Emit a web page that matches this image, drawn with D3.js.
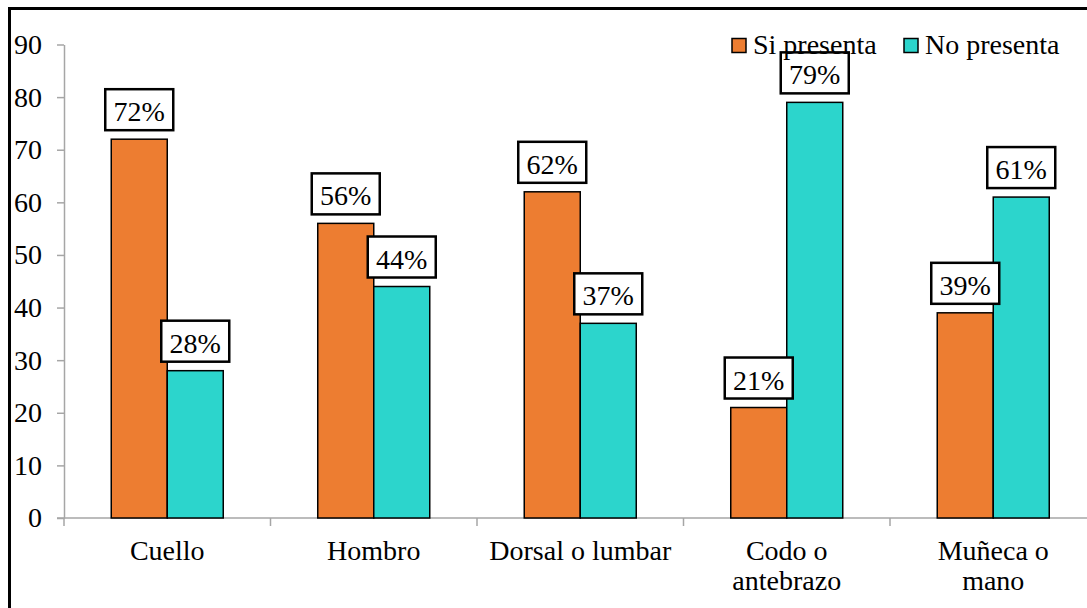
<!DOCTYPE html>
<html>
<head>
<meta charset="utf-8">
<script src="https://cdn.jsdelivr.net/npm/d3@7/dist/d3.min.js"></script>
<style>
  html, body { margin: 0; padding: 0; background: #fff; }
  svg { display: block; }
  text { font-family: "Liberation Serif", "Times New Roman", serif; fill: #000; }
</style>
</head>
<body>
<svg id="chart" width="1087" height="608"></svg>
<script>
// Body regions surveyed
const categories = ["Cuello", "Hombro", "Dorsal o lumbar", "Codo o antebrazo", "Muñeca o mano"];
const categoryLines = [["Cuello"], ["Hombro"], ["Dorsal o lumbar"], ["Codo o", "antebrazo"], ["Muñeca o", "mano"]];
const seriesNames = ["Si presenta", "No presenta"];
const siPresenta = [72, 56, 62, 21, 39];
const noPresenta = [28, 44, 37, 79, 61];
const yTicks = [0, 10, 20, 30, 40, 50, 60, 70, 80, 90];
const colors = ["#ED7D31", "#2CD5CC"];

const svg = d3.select("#chart");
const FONT = 28;

// Outer frame
svg.append("rect")
  .attr("x", 9.5).attr("y", 8.5)
  .attr("width", 1200).attr("height", 700)
  .attr("fill", "none").attr("stroke", "#000").attr("stroke-width", 3);

const plotLeft = 64, plotRight = 1096.5, plotTop = 44.5, plotBottom = 518;

const y = d3.scaleLinear().domain([0, 90]).range([plotBottom, plotTop]);
const x = d3.scaleBand().domain(categories).range([plotLeft, plotRight]).padding(0);
const bw = x.bandwidth();
const inner = d3.scaleBand().domain(seriesNames)
  .range([bw * 0.2288, bw * 0.7712]).padding(0);

// Y axis
const yAxis = svg.append("g")
  .attr("transform", `translate(${plotLeft},0)`)
  .call(d3.axisLeft(y).tickValues(yTicks).tickSize(7).tickSizeOuter(0).tickPadding(15));
yAxis.select(".domain").attr("stroke", "#a6a6a6").attr("stroke-width", 1.5);
yAxis.selectAll(".tick line").attr("stroke", "#a6a6a6").attr("stroke-width", 1.5);
yAxis.selectAll(".tick text")
  .attr("font-size", FONT)
  .attr("font-family", "Liberation Serif, Times New Roman, serif")
  .attr("fill", "#000");

// X axis: baseline plus ticks at the category boundaries
const boundaries = categories.map(c => x(c)).concat([plotRight]);
const xAxis = svg.append("g");
xAxis.append("line")
  .attr("x1", plotLeft - 7).attr("x2", 1100)
  .attr("y1", y(0)).attr("y2", y(0))
  .attr("stroke", "#a6a6a6").attr("stroke-width", 1.5);
xAxis.selectAll("line.tk").data(boundaries).join("line")
  .attr("class", "tk")
  .attr("x1", d => d).attr("x2", d => d)
  .attr("y1", y(0)).attr("y2", y(0) + 8)
  .attr("stroke", "#a6a6a6").attr("stroke-width", 1.5);

// Category labels
categories.forEach((c, i) => {
  const t = svg.append("text")
    .attr("x", x(c) + bw / 2)
    .attr("y", y(0) + 42)
    .attr("text-anchor", "middle")
    .attr("font-size", FONT);
  categoryLines[i].forEach((ln, j) => {
    t.append("tspan").attr("x", x(c) + bw / 2).attr("dy", j === 0 ? 0 : 30).text(ln);
  });
});

// Bars
const rows = categories.map((c, i) => ({ cat: c, vals: [siPresenta[i], noPresenta[i]] }));
const groups = svg.append("g").selectAll("g").data(rows).join("g")
  .attr("transform", d => `translate(${x(d.cat)},0)`);

groups.selectAll("rect").data(d => d.vals.map((v, k) => ({ v, k })))
  .join("rect")
  .attr("x", d => inner(seriesNames[d.k]))
  .attr("width", inner.bandwidth())
  .attr("y", d => y(d.v))
  .attr("height", d => y(0) - y(d.v))
  .attr("fill", d => colors[d.k])
  .attr("stroke", "#000").attr("stroke-width", 1.5);

// Value labels in boxes above bars
const labelG = groups.selectAll("g.lbl").data(d => d.vals.map((v, k) => ({ v, k })))
  .join("g").attr("class", "lbl")
  .attr("transform", d => `translate(${inner(seriesNames[d.k]) + inner.bandwidth() / 2},${y(d.v) - 9})`);
labelG.append("rect")
  .attr("x", -34).attr("y", -41).attr("width", 68).attr("height", 41)
  .attr("fill", "#fff").attr("stroke", "#000").attr("stroke-width", 2.5);
labelG.append("text")
  .attr("text-anchor", "middle")
  .attr("y", -9)
  .attr("font-size", FONT)
  .text(d => d.v + "%");

// Legend
const legend = svg.append("g");
const legendX = [732, 904];
seriesNames.forEach((s, k) => {
  legend.append("rect")
    .attr("x", legendX[k]).attr("y", 38.5).attr("width", 14).attr("height", 14)
    .attr("fill", colors[k]).attr("stroke", "#000").attr("stroke-width", 1.5);
  legend.append("text")
    .attr("x", legendX[k] + 21).attr("y", 54)
    .attr("font-size", FONT)
    .text(s);
});
</script>
</body>
</html>
